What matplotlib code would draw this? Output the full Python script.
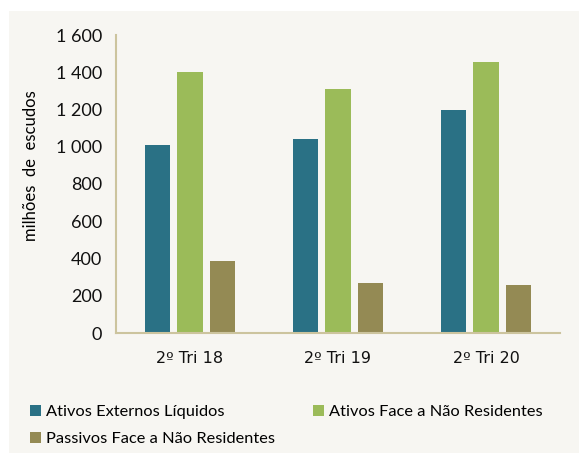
import matplotlib.pyplot as plt
import numpy as np
from matplotlib.patches import Rectangle

categorias = ['2º Tri 18', '2º Tri 19', '2º Tri 20']
series = ['Ativos Externos Líquidos', 'Ativos Face a Não Residentes',
          'Passivos Face a Não Residentes']
ativos_ext = [1010, 1042, 1197]
ativos_face = [1402, 1310, 1455]
passivos_face = [387, 268, 258]
cores = ['#2A7185', '#9BBB59', '#948A54']

plt.rcParams['font.family'] = ['Lato', 'DejaVu Sans']

fig = plt.figure(figsize=(5.79, 4.53), dpi=100)
fig.patch.set_facecolor('white')
fundo = '#F7F6F2'
fig.patches.append(Rectangle((9 / 579, 0), 1 - 9 / 579, 1 - 11 / 453,
                             transform=fig.transFigure, facecolor=fundo,
                             edgecolor='none', zorder=-1))

ax = fig.add_axes([116 / 579, 120 / 453, 444 / 579, 298 / 453])
ax.set_facecolor(fundo)

x = np.arange(len(categorias))
w = 0.17
d = 0.22
barras = []
for i, (vals, nome) in enumerate(zip([ativos_ext, ativos_face, passivos_face], series)):
    barras.append(ax.bar(x + (i - 1) * d, vals, width=w, color=cores[i], label=nome))

ax.set_xlim(-0.5, 2.5)
ax.set_ylim(0, 1600)
ax.set_yticks(np.arange(0, 1601, 200))
ax.set_yticklabels([f'{v:,}'.replace(',', ' ') for v in range(0, 1601, 200)])
ax.set_xticks(x)
ax.set_xticklabels(categorias, fontfamily='DejaVu Sans', fontsize=11.5)
ax.tick_params(axis='y', length=0, labelsize=13, colors='#111111', pad=10)
ax.tick_params(axis='x', length=0, colors='#111111', pad=13)
for s in ['top', 'right']:
    ax.spines[s].set_visible(False)
for s in ['left', 'bottom']:
    ax.spines[s].set_color('#CCC49E')
    ax.spines[s].set_linewidth(1.5)

ax.set_ylabel('milhões  de  escudos', fontsize=12)
ax.yaxis.set_label_coords(-0.173, 0.56)

fig.legend([barras[0], barras[2], barras[1]], [series[0], series[2], series[1]],
           loc='lower left', bbox_to_anchor=(15 / 579, -8 / 453), ncol=2,
           frameon=False, fontsize=11.8, handlelength=0.7, handleheight=0.7,
           handletextpad=0.3, columnspacing=2.3, labelspacing=0.75)

fig.savefig('out.png', dpi=100, facecolor='white')
